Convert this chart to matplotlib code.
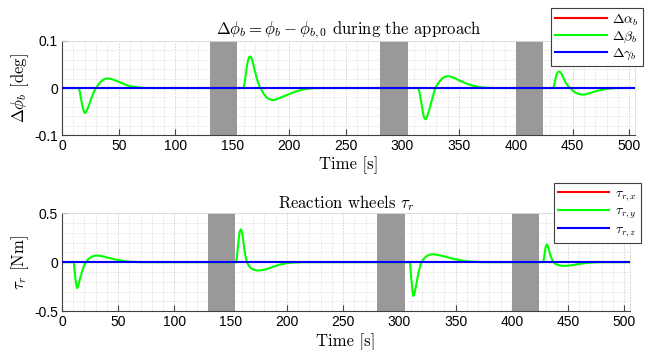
import matplotlib

matplotlib.use("Agg")

import matplotlib.pyplot as plt
import numpy as np

plt.rcParams["mathtext.fontset"] = "cm"
plt.rcParams["axes.unicode_minus"] = False

# time span and shaded (blackout) intervals [s]
t_span = [0, 505]
shaded = [(130, 154), (280, 305), (400, 424)]

# attitude error, beta component [deg] (alpha and gamma stay at zero)
att_t = [0, 15, 16, 17, 18, 19, 20, 21, 22, 24, 26, 28, 30, 32, 34, 36, 38, 40, 42, 45, 48, 52, 56, 60, 65, 70, 75,
         160, 161, 162, 163, 164, 165, 166, 167, 168, 170, 172, 174, 175, 176, 178, 180, 182, 185, 188, 191, 195,
         200, 205, 210, 215, 220, 225,
         314, 315, 316, 317, 318, 319, 320, 321, 322, 324, 326, 328, 329, 331, 333, 335, 337, 339, 341, 344, 347,
         350, 354, 358, 362, 366, 370, 375, 380,
         433, 434, 435, 436, 437, 438, 439, 440, 442, 444, 446, 448, 450, 452, 455, 458, 461, 465, 470, 475, 480,
         485, 490, 505]
att_beta = [0, 0, -0.012, -0.026, -0.038, -0.048, -0.053, -0.052, -0.047, -0.035, -0.021, -0.009, 0.0, 0.007,
            0.013, 0.017, 0.0195, 0.0205, 0.020, 0.018, 0.015, 0.011, 0.007, 0.004, 0.002, 0.0007, 0,
            0, 0.012, 0.03, 0.047, 0.059, 0.066, 0.067, 0.064, 0.056, 0.036, 0.017, 0.004, 0, -0.005, -0.013,
            -0.019, -0.023, -0.0255, -0.025, -0.022, -0.018, -0.013, -0.008, -0.0045, -0.002, -0.0005, 0,
            0, -0.008, -0.022, -0.037, -0.051, -0.062, -0.066, -0.065, -0.059, -0.043, -0.025, -0.008, 0, 0.008,
            0.015, 0.020, 0.0235, 0.025, 0.025, 0.023, 0.020, 0.016, 0.012, 0.008, 0.005, 0.003, 0.0015, 0.0005, 0,
            0, 0.009, 0.021, 0.03, 0.034, 0.035, 0.034, 0.031, 0.021, 0.011, 0.004, 0, -0.005, -0.009, -0.0125,
            -0.014, -0.0135, -0.011, -0.007, -0.004, -0.002, -0.0005, 0, 0]

# reaction wheel torque, y component [Nm] (x and z stay at zero)
rw_t = [0, 10.5, 11.5, 12.5, 13.5, 14.5, 16, 18, 20, 21.3, 23, 25, 27, 29, 31, 34, 37, 40, 44, 48, 52, 56, 60,
        65, 70,
        155, 156, 157, 158, 159, 160, 161, 162, 163, 164.5, 166, 168, 170, 173, 176, 179, 182, 186, 190, 195,
        200, 205, 210, 215,
        309.5, 310.5, 311.5, 312.5, 313.5, 315, 317, 319, 319.5, 321, 323, 325, 327, 329, 332, 335, 338, 342,
        346, 350, 355, 360, 365, 370, 375,
        428, 429, 430, 431, 432, 433, 434, 435.5, 437, 439, 441, 444, 447, 450, 454, 458, 462, 466, 470, 475,
        480, 505]
rw_y = [0, 0, -0.12, -0.22, -0.265, -0.24, -0.17, -0.09, -0.025, 0, 0.025, 0.045, 0.058, 0.065, 0.067, 0.064,
        0.057, 0.048, 0.037, 0.026, 0.017, 0.010, 0.005, 0.002, 0,
        0, 0.1, 0.22, 0.31, 0.335, 0.31, 0.24, 0.15, 0.07, 0, -0.035, -0.06, -0.075, -0.084, -0.085, -0.08,
        -0.07, -0.055, -0.038, -0.022, -0.011, -0.005, -0.002, 0,
        0, -0.15, -0.28, -0.345, -0.32, -0.23, -0.11, -0.02, 0, 0.025, 0.05, 0.067, 0.077, 0.08, 0.078, 0.072,
        0.064, 0.052, 0.04, 0.029, 0.018, 0.010, 0.005, 0.002, 0,
        0, 0.07, 0.15, 0.18, 0.165, 0.125, 0.08, 0.035, 0, -0.018, -0.028, -0.036, -0.038, -0.036, -0.03,
        -0.022, -0.015, -0.009, -0.005, -0.002, 0, 0]

att_ticks = [-0.1, 0, 0.1]
att_ticklabels = ["-0.1", "0", "0.1"]
rw_ticks = [-0.5, 0, 0.5]
rw_ticklabels = ["-0.5", "0", "0.5"]
x_ticks = [0, 50, 100, 150, 200, 250, 300, 350, 400, 450, 500]

TICK_FONT = "Liberation Sans"
CM = "cmr10"


def style_axes(ax, yticks, yticklabels, yminor):
    ax.set_xlim(*t_span)
    ax.set_ylim(yticks[0], yticks[-1])
    ax.set_xticks(x_ticks)
    ax.set_xticklabels([str(v) for v in x_ticks], fontfamily=TICK_FONT, fontsize=10)
    ax.set_yticks(yticks)
    ax.set_yticklabels(yticklabels, fontfamily=TICK_FONT, fontsize=10)
    ax.set_xticks(np.arange(0, 506, 10), minor=True)
    ax.set_yticks(np.arange(yticks[0], yticks[-1] + 1e-9, yminor), minor=True)
    ax.tick_params(which="major", direction="in", length=4, width=0.8, color="#404040", pad=3)
    ax.tick_params(which="minor", length=0)
    ax.grid(which="major", color="#cfcfcf", lw=0.6, ls=(0, (2, 1.5)))
    ax.grid(which="minor", color="#d8d8d8", lw=0.5, ls=(0, (1.5, 1.5)))
    ax.set_axisbelow(True)
    for side in ("top", "right"):
        ax.spines[side].set_color("#dddddd")
        ax.spines[side].set_linewidth(0.6)
    for side in ("left", "bottom"):
        ax.spines[side].set_color("#404040")
        ax.spines[side].set_linewidth(0.8)
    for a, b in shaded:
        ax.axvspan(a, b, color="#999999", lw=0, zorder=1.5)
    ax.set_xlabel("Time [s]", fontfamily=CM, fontsize=12, labelpad=2.5)


def add_legend(ax, anchor):
    leg = ax.legend(loc="upper right", bbox_to_anchor=anchor, bbox_transform=fig.transFigure,
                    prop={"family": CM, "size": 10}, frameon=True, fancybox=False, framealpha=1,
                    edgecolor="#404040", handlelength=3.7, labelspacing=0.15, borderpad=0.28,
                    handletextpad=0.4, borderaxespad=0)
    leg.get_frame().set_linewidth(0.8)
    return leg


fig = plt.figure(figsize=(6.49, 3.5), dpi=100)
ax1 = fig.add_axes([0.0955, 0.614, 0.883, 0.269])
ax2 = fig.add_axes([0.0955, 0.111, 0.875, 0.28])

zeros_t = np.array(t_span)
zeros_v = np.zeros(2)

# attitude panel
style_axes(ax1, att_ticks, att_ticklabels, 0.02)
ax1.plot(zeros_t, zeros_v, color="red", lw=1.5, label=r"$\Delta\alpha_b$", zorder=3)
ax1.plot(att_t, att_beta, color="#00ff00", lw=1.5, label=r"$\Delta\beta_b$", zorder=3)
ax1.plot(zeros_t, zeros_v, color="blue", lw=1.5, label=r"$\Delta\gamma_b$", zorder=4)
ax1.set_title(r"$\Delta\phi_b = \phi_b - \phi_{b,0}$ during the approach", fontfamily=CM, fontsize=12, pad=3)
ax1.set_ylabel(r"$\Delta\phi_b$ [deg]", fontfamily=CM, fontsize=12, labelpad=2)
add_legend(ax1, (0.990, 0.976))

# reaction wheel panel
style_axes(ax2, rw_ticks, rw_ticklabels, 0.1)
ax2.plot(zeros_t, zeros_v, color="red", lw=1.5, label=r"$\tau_{r,x}$", zorder=3)
ax2.plot(rw_t, rw_y, color="#00ff00", lw=1.5, label=r"$\tau_{r,y}$", zorder=3)
ax2.plot(zeros_t, zeros_v, color="blue", lw=1.5, label=r"$\tau_{r,z}$", zorder=4)
ax2.set_title(r"Reaction wheels $\tau_r$", fontfamily=CM, fontsize=12, pad=3)
ax2.set_ylabel(r"$\tau_r$ [Nm]", fontfamily=CM, fontsize=12, labelpad=2)
add_legend(ax2, (0.987, 0.476))

fig.savefig("out.png", dpi=100)
plt.close(fig)
